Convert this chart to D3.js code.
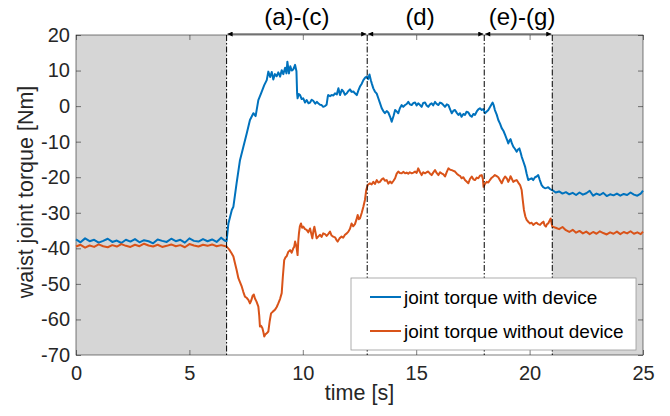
<!DOCTYPE html>
<html>
<head>
<meta charset="utf-8">
<script src="https://cdn.jsdelivr.net/npm/d3@7"></script>
<style>
  body { margin: 0; background: #fff; }
  svg { font-family: "Liberation Sans", Arial, sans-serif; }
</style>
</head>
<body>
<svg id="chart" width="670" height="416"></svg>
<script>
// time [s], torque [Nm]
var withDevice = [
  [0, -37.5], [0.2, -38.3], [0.4, -37.2], [0.6, -38.0], [0.8, -37.6], [1.0, -38.4], [1.2, -37.9], [1.4, -37.3],
  [1.6, -38.2], [1.8, -37.8], [2.0, -38.5], [2.2, -37.6], [2.4, -38.1], [2.6, -37.4], [2.8, -38.3], [3.0, -37.7],
  [3.2, -38.0], [3.4, -38.6], [3.6, -37.5], [3.8, -37.9], [4.0, -38.2], [4.2, -37.3], [4.4, -38.0], [4.6, -37.6],
  [4.8, -38.4], [5.0, -37.2], [5.2, -37.9], [5.4, -38.1], [5.6, -37.4], [5.8, -38.0], [6.0, -37.5], [6.2, -38.2],
  [6.4, -37.0], [6.55, -37.8], [6.64, -38.0],
  [6.72, -33.0], [6.87, -29.2], [6.94, -28.3], [7.08, -21.7], [7.23, -15.2], [7.38, -11.4], [7.53, -7.6], [7.67, -3.9],
  [7.82, -2.0], [7.92, -2.8], [8.04, 1.7], [8.16, 3.6], [8.30, 5.9], [8.41, 7.3], [8.48, 9.7], [8.56, 8.2],
  [8.63, 9.6], [8.70, 7.5], [8.77, 9.0], [8.85, 8.4], [8.92, 9.5], [9.0, 8.3], [9.07, 10.1], [9.14, 9.0],
  [9.22, 10.8], [9.28, 9.2], [9.32, 12.5], [9.39, 9.2], [9.45, 11.2], [9.51, 10.0], [9.58, 10.3], [9.66, 11.6],
  [9.72, 9.8], [9.75, 3.5], [9.77, 2.2], [9.82, 3.4], [9.88, 3.1], [9.95, 2.0], [10.02, 2.2], [10.10, 1.0],
  [10.17, 1.7], [10.25, 0.8], [10.32, 1.0], [10.39, 1.8], [10.46, 1.5], [10.55, 0.7], [10.62, 1.2], [10.68, 0.8],
  [10.76, 0.4], [10.83, 0.3], [10.90, -0.2], [10.98, 0.0], [11.05, 0.4], [11.10, 2.6], [11.12, 3.1], [11.20, 2.8],
  [11.27, 3.1], [11.35, 3.0], [11.42, 3.6], [11.50, 3.3], [11.57, 5.0], [11.64, 3.1], [11.72, 4.6], [11.79, 4.1],
  [11.86, 3.2], [11.94, 3.6], [12.0, 4.2], [12.08, 4.7], [12.15, 4.0], [12.23, 4.1], [12.30, 3.6], [12.38, 3.1],
  [12.45, 4.4], [12.52, 5.5], [12.60, 6.3], [12.67, 7.3], [12.75, 8.0], [12.82, 8.3], [12.88, 7.6], [12.94, 8.9],
  [13.0, 7.3], [13.04, 6.4], [13.11, 5.0], [13.18, 4.1], [13.26, 3.5], [13.33, 2.2], [13.40, 0.9], [13.48, -0.6],
  [13.55, -1.4], [13.62, -2.0], [13.70, -1.4], [13.77, -1.8], [13.85, -3.0], [13.92, -4.4], [14.0, -2.8], [14.07, -1.1],
  [14.14, -1.5], [14.21, -2.0], [14.28, -0.6], [14.36, 0.3], [14.43, -0.2], [14.51, 0.3], [14.58, 0.6], [14.65, 1.2],
  [14.72, 0.5], [14.80, 0.3], [14.88, 0.9], [14.95, 1.0], [15.02, 0.2], [15.09, 0.8], [15.17, 0.3], [15.24, -0.2],
  [15.31, 0.9], [15.39, 1.0], [15.46, 0.2], [15.53, -0.2], [15.61, 0.5], [15.68, 0.8], [15.75, 0.2], [15.83, 1.2],
  [15.90, 0.6], [15.98, 0.3], [16.05, 1.0], [16.12, 0.8], [16.20, 0.3], [16.27, -0.2], [16.35, 0.5], [16.42, 0.3],
  [16.50, -1.0], [16.57, -2.0], [16.64, -1.3], [16.71, -1.1], [16.79, -1.9], [16.86, -2.5], [16.93, -2.0], [17.0, -3.0],
  [17.08, -2.2], [17.15, -2.5], [17.22, -1.6], [17.30, -1.8], [17.37, -2.6], [17.45, -3.0], [17.52, -2.2], [17.59, -2.5],
  [17.67, -1.5], [17.74, -0.9], [17.81, -0.6], [17.89, -1.1], [17.96, -0.8], [18.03, -2.0], [18.10, -1.6], [18.18, -1.1],
  [18.28, 0.0], [18.37, 1.0], [18.42, 0.2], [18.47, -1.1], [18.55, -2.4], [18.62, -3.9], [18.70, -5.0], [18.77, -6.2],
  [18.85, -7.0], [18.92, -8.1], [19.0, -9.4], [19.06, -10.5], [19.12, -9.6], [19.16, -9.3], [19.22, -10.5], [19.28, -11.4],
  [19.35, -12.0], [19.43, -12.8], [19.49, -12.2], [19.55, -11.9], [19.60, -13.0], [19.65, -14.2], [19.72, -15.5], [19.80, -17.0],
  [19.87, -19.0], [19.94, -20.8], [20.02, -20.5], [20.09, -20.3], [20.16, -20.8], [20.24, -20.0], [20.31, -19.8], [20.38, -19.4],
  [20.45, -20.8], [20.53, -22.2], [20.60, -22.8], [20.68, -23.1], [20.75, -23.0], [20.82, -22.8], [20.90, -23.3], [20.97, -23.6],
  [21.0, -23.6], [21.15, -24.3], [21.3, -24.0], [21.45, -24.6], [21.6, -24.2], [21.75, -24.8], [21.9, -24.4], [22.05, -25.0],
  [22.2, -24.3], [22.35, -24.9], [22.5, -24.5], [22.65, -23.8], [22.8, -25.2], [22.95, -24.6], [23.1, -25.0], [23.25, -24.4],
  [23.4, -25.3], [23.55, -24.8], [23.7, -25.1], [23.85, -24.6], [24.0, -25.2], [24.15, -24.7], [24.3, -25.0], [24.45, -24.3],
  [24.6, -24.9], [24.75, -25.2], [24.9, -24.6], [25.0, -23.8]
];

var withoutDevice = [
  [0, -39.5], [0.2, -39.0], [0.4, -39.8], [0.6, -39.2], [0.8, -39.6], [1.0, -38.9], [1.2, -39.4], [1.4, -39.7],
  [1.6, -39.1], [1.8, -39.5], [2.0, -38.8], [2.2, -39.3], [2.4, -39.6], [2.6, -39.0], [2.8, -39.4], [3.0, -38.7],
  [3.2, -39.2], [3.4, -39.5], [3.6, -39.0], [3.8, -39.6], [4.0, -39.3], [4.2, -38.9], [4.4, -39.4], [4.6, -39.1],
  [4.8, -39.7], [5.0, -38.8], [5.2, -39.2], [5.4, -39.5], [5.6, -39.0], [5.8, -39.3], [6.0, -38.9], [6.2, -39.4],
  [6.4, -39.1], [6.64, -39.5],
  [6.75, -40.3], [6.86, -41.4], [6.94, -42.3], [7.01, -44.2], [7.08, -46.0], [7.16, -48.4], [7.23, -49.5], [7.31, -50.8],
  [7.38, -52.3], [7.45, -53.6], [7.52, -53.9], [7.60, -54.5], [7.67, -55.5], [7.73, -54.6], [7.79, -53.3], [7.84, -53.0],
  [7.89, -54.1], [7.96, -55.0], [8.04, -56.4], [8.08, -59.0], [8.11, -62.0], [8.16, -61.8], [8.22, -62.5], [8.26, -63.5],
  [8.30, -64.8], [8.35, -64.2], [8.41, -63.9], [8.48, -63.4], [8.54, -60.5], [8.60, -58.3], [8.68, -57.8], [8.77, -57.3],
  [8.85, -56.5], [8.92, -55.5], [9.0, -54.2], [9.07, -52.6], [9.12, -48.0], [9.18, -43.3], [9.24, -42.5], [9.29, -42.2],
  [9.36, -41.0], [9.44, -40.5], [9.51, -41.2], [9.58, -40.0], [9.62, -39.6], [9.66, -38.1], [9.72, -39.5], [9.77, -41.9],
  [9.80, -38.0], [9.83, -35.8], [9.87, -33.8], [9.92, -33.0], [9.97, -34.2], [10.02, -33.9], [10.10, -34.6], [10.17, -34.8],
  [10.24, -35.5], [10.32, -34.4], [10.37, -35.8], [10.42, -37.2], [10.47, -35.0], [10.51, -33.9], [10.56, -35.5], [10.61, -37.2],
  [10.68, -36.7], [10.76, -36.2], [10.83, -36.8], [10.90, -35.8], [10.98, -36.0], [11.05, -36.5], [11.12, -36.0], [11.20, -35.3],
  [11.27, -36.4], [11.34, -36.7], [11.42, -36.9], [11.48, -37.6], [11.54, -38.1], [11.62, -37.2], [11.71, -36.7], [11.78, -37.0],
  [11.86, -36.2], [11.94, -35.8], [12.01, -35.3], [12.08, -34.5], [12.15, -33.0], [12.22, -33.8], [12.30, -33.2], [12.36, -32.0],
  [12.42, -30.6], [12.47, -31.8], [12.52, -31.6], [12.60, -30.0], [12.67, -28.3], [12.74, -26.4], [12.80, -23.5], [12.86, -22.2],
  [12.96, -21.7], [13.04, -22.0], [13.11, -21.3], [13.18, -21.9], [13.26, -20.8], [13.33, -21.5], [13.40, -21.3], [13.48, -20.6],
  [13.55, -20.3], [13.62, -21.0], [13.70, -20.8], [13.77, -21.8], [13.85, -21.2], [13.92, -21.7], [14.0, -21.0], [14.07, -20.3],
  [14.14, -19.0], [14.21, -18.4], [14.28, -18.8], [14.36, -18.9], [14.43, -18.5], [14.51, -18.9], [14.58, -18.7], [14.65, -19.0],
  [14.72, -18.6], [14.80, -18.9], [14.88, -18.7], [14.95, -18.4], [15.02, -18.8], [15.09, -17.5], [15.17, -18.6], [15.24, -19.4],
  [15.31, -18.6], [15.39, -18.9], [15.46, -18.6], [15.53, -18.4], [15.61, -19.0], [15.68, -19.4], [15.75, -18.7], [15.83, -18.0],
  [15.90, -18.8], [15.98, -19.4], [16.05, -18.6], [16.12, -18.9], [16.20, -19.2], [16.27, -19.8], [16.35, -18.5], [16.42, -17.5],
  [16.50, -17.9], [16.57, -18.0], [16.64, -18.2], [16.71, -18.4], [16.79, -19.0], [16.86, -19.4], [16.93, -19.6], [17.0, -20.3],
  [17.08, -20.0], [17.15, -20.8], [17.22, -21.2], [17.30, -21.7], [17.37, -20.5], [17.45, -19.8], [17.52, -20.6], [17.59, -20.8],
  [17.67, -20.1], [17.74, -20.3], [17.81, -19.6], [17.89, -19.4], [17.94, -20.5], [17.97, -22.7], [18.04, -21.8], [18.11, -21.3],
  [18.18, -21.5], [18.25, -20.8], [18.32, -20.2], [18.40, -19.8], [18.47, -19.4], [18.55, -19.7], [18.62, -20.0], [18.70, -20.9],
  [18.77, -21.7], [18.85, -20.5], [18.92, -19.8], [19.0, -20.4], [19.06, -21.3], [19.12, -20.5], [19.16, -19.7], [19.22, -20.5],
  [19.28, -21.3], [19.35, -21.0], [19.43, -20.8], [19.50, -21.5], [19.58, -22.2], [19.65, -23.6], [19.70, -26.5], [19.75, -29.2],
  [19.81, -31.0], [19.87, -32.0], [19.95, -32.6], [20.02, -33.0], [20.09, -32.8], [20.16, -33.4], [20.24, -33.0], [20.31, -32.8],
  [20.38, -33.2], [20.46, -33.4], [20.53, -32.9], [20.61, -32.5], [20.66, -33.5], [20.72, -33.9], [20.77, -33.2], [20.82, -33.0],
  [20.88, -32.2], [20.93, -31.6], [20.97, -33.0], [21.0, -33.9],
  [21.15, -34.2], [21.3, -34.6], [21.45, -34.0], [21.6, -34.9], [21.75, -35.4], [21.9, -34.8], [22.05, -35.6], [22.2, -35.1],
  [22.35, -35.8], [22.5, -35.3], [22.65, -36.0], [22.8, -35.4], [22.95, -35.9], [23.1, -35.2], [23.25, -35.7], [23.4, -36.1],
  [23.55, -35.5], [23.7, -35.9], [23.85, -35.3], [24.0, -36.0], [24.15, -35.4], [24.3, -35.8], [24.45, -35.2], [24.6, -35.9],
  [24.75, -35.5], [24.9, -36.0], [25.0, -35.3]
];

var phaseBounds = [6.64, 12.84, 18.0, 21.0];
var phaseLabels = ["(a)-(c)", "(d)", "(e)-(g)"];
var phaseLabelT = [9.74, 15.17, 19.67];
var restBands = [[0, 6.64], [21.0, 25]];
var xTicks = [0, 5, 10, 15, 20, 25];
var yTicks = [20, 10, 0, -10, -20, -30, -40, -50, -60, -70];
var seriesNames = ["joint torque with device", "joint torque without device"];
var seriesColors = ["#0072BD", "#D95319"];

var svg = d3.select('#chart');
var mLeft = 76, mTop = 35, w = 567, h = 320;

var x = d3.scaleLinear().domain([0, 25]).range([mLeft, mLeft + w]);
var y = d3.scaleLinear().domain([-70, 20]).range([mTop + h, mTop]);

svg.append('rect').attr('width', 670).attr('height', 416).attr('fill', '#fff');

// grey rest phases
svg.selectAll('rect.band')
    .data(restBands)
    .enter()
    .append('rect')
    .attr('class', 'band')
    .attr('x', function(d) { return x(d[0]); })
    .attr('y', mTop)
    .attr('width', function(d) { return x(d[1]) - x(d[0]); })
    .attr('height', h)
    .attr('fill', '#d6d6d6');

// axes with inward ticks on all four sides
var axisColor = '#262626';
var plain = function(d) { return String(d); };   // hyphen minus like matlab
function styleAxis(g) {
    g.select('.domain').remove();
    g.selectAll('line').attr('stroke', axisColor).attr('stroke-width', 0.6);
    g.selectAll('text').attr('fill', axisColor).style('font-size', '20px');
}
svg.append('g').attr('transform', 'translate(0,' + (mTop + h) + ')')
    .call(d3.axisBottom(x).tickValues(xTicks).tickSize(-5).tickPadding(11).tickFormat(plain))
    .call(styleAxis);
svg.append('g').attr('transform', 'translate(0,' + mTop + ')')
    .call(d3.axisTop(x).tickValues(xTicks).tickSize(-5).tickFormat(''))
    .call(styleAxis);
svg.append('g').attr('transform', 'translate(' + mLeft + ',0)')
    .call(d3.axisLeft(y).tickValues(yTicks).tickSize(-5).tickPadding(6).tickFormat(plain))
    .call(styleAxis);
svg.append('g').attr('transform', 'translate(' + (mLeft + w) + ',0)')
    .call(d3.axisRight(y).tickValues(yTicks).tickSize(-5).tickFormat(''))
    .call(styleAxis);

svg.append('rect')
    .attr('x', mLeft).attr('y', mTop).attr('width', w).attr('height', h)
    .attr('fill', 'none').attr('stroke', axisColor).attr('stroke-width', 0.6);

// series
var line = d3.line()
    .x(function(d) { return x(d[0]); })
    .y(function(d) { return y(d[1]); });

[withDevice, withoutDevice].forEach(function(data, i) {
    svg.append('path')
        .datum(data)
        .attr('d', line)
        .attr('fill', 'none')
        .attr('stroke', seriesColors[i])
        .attr('stroke-width', 2)
        .attr('stroke-linejoin', 'round');
});

// phase boundaries
svg.selectAll('line.phase')
    .data(phaseBounds)
    .enter()
    .append('line')
    .attr('class', 'phase')
    .attr('x1', function(d) { return x(d); })
    .attr('x2', function(d) { return x(d); })
    .attr('y1', mTop)
    .attr('y2', mTop + h)
    .attr('stroke', '#000')
    .attr('stroke-width', 1)
    .attr('stroke-dasharray', '6,2,1.5,2');

// double arrows above
var defs = svg.append('defs');
defs.append('marker')
    .attr('id', 'ahead')
    .attr('viewBox', '0 0 10 10')
    .attr('refX', 10).attr('refY', 5)
    .attr('markerWidth', 7).attr('markerHeight', 5)
    .attr('markerUnits', 'userSpaceOnUse')
    .attr('orient', 'auto-start-reverse')
    .append('path').attr('d', 'M0,0L10,5L0,10z').attr('fill', '#000');

var spans = d3.pairs(phaseBounds);
svg.selectAll('line.arrow')
    .data(spans)
    .enter()
    .append('line')
    .attr('class', 'arrow')
    .attr('x1', function(d) { return x(d[0]) + 1; })
    .attr('x2', function(d) { return x(d[1]) - 1; })
    .attr('y1', mTop - 1)
    .attr('y2', mTop - 1)
    .attr('stroke', '#000')
    .attr('stroke-width', 0.8)
    .attr('marker-start', 'url(#ahead)')
    .attr('marker-end', 'url(#ahead)');

svg.selectAll('text.phaselabel')
    .data(phaseLabels)
    .enter()
    .append('text')
    .attr('class', 'phaselabel')
    .attr('x', function(d, i) { return x(phaseLabelT[i]); })
    .attr('y', 25)
    .attr('text-anchor', 'middle')
    .style('font-size', '24px')
    .attr('fill', '#000')
    .text(function(d) { return d; });

// axis titles
svg.append('text')
    .attr('x', mLeft + w / 2).attr('y', 400)
    .attr('text-anchor', 'middle')
    .style('font-size', '21.5px')
    .attr('fill', axisColor)
    .text('time [s]');
svg.append('text')
    .attr('transform', 'translate(33,' + (mTop + h / 2 - 3) + ') rotate(-90)')
    .attr('text-anchor', 'middle')
    .style('font-size', '21.5px')
    .attr('fill', axisColor)
    .text('waist joint torque [Nm]');

// legend
var lg = svg.append('g').attr('transform', 'translate(351,278)');
lg.append('rect')
    .attr('width', 285).attr('height', 72)
    .attr('fill', '#fff').attr('stroke', '#999').attr('stroke-width', 0.8);
seriesNames.forEach(function(name, i) {
    var ly = 19 + i * 34;
    lg.append('line')
        .attr('x1', 19).attr('x2', 50).attr('y1', ly).attr('y2', ly)
        .attr('stroke', seriesColors[i]).attr('stroke-width', 2);
    lg.append('text')
        .attr('x', 53).attr('y', ly).attr('dy', '0.35em')
        .style('font-size', '19px')
        .attr('fill', '#000')
        .text(name);
});
</script>
</body>
</html>
